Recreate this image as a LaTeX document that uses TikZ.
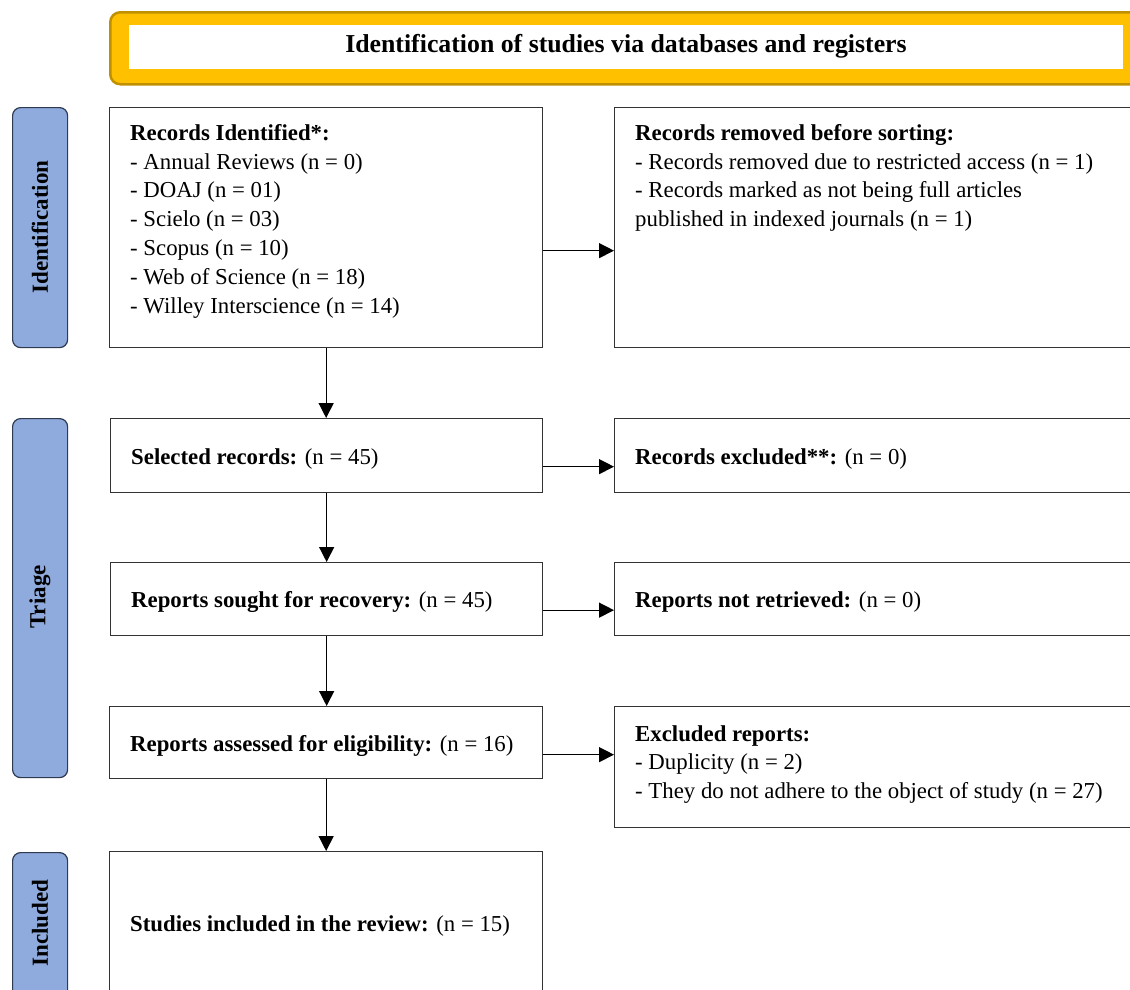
\documentclass[tikz,border=0pt]{standalone}
\usepackage{fontspec}
\setmainfont{Liberation Serif}
\usetikzlibrary{arrows.meta,calc}
\definecolor{boxline}{HTML}{333333}
\definecolor{bangold}{HTML}{FFC000}
\definecolor{banedge}{HTML}{BF9000}
\definecolor{phaseblue}{HTML}{8FAADC}
\definecolor{phaseedge}{HTML}{2E3A4F}
\begin{document}
\begin{tikzpicture}[x=1pt,y=-1pt,
  box/.style={draw=boxline, line width=1.3pt, fill=white, anchor=north west, inner sep=0pt},
  phase/.style={draw=phaseedge, fill=phaseblue, rounded corners=8pt, line width=1.2pt, anchor=north west, inner sep=0pt},
  phtxt/.style={inner sep=0pt, rotate=90, font=\fontsize{23}{26}\selectfont\bfseries},
  txt/.style={inner sep=0pt, align=left, font=\fontsize{22.8}{28.8}\selectfont},
  arr/.style={draw=black, line width=1.3pt, -{Triangle[length=15pt,width=15pt]}}]
\useasboundingbox (0,0) rectangle (1130,989);
\clip (0,0) rectangle (1130,989);
% banner
\node[draw=banedge, fill=bangold, line width=2.5pt, rounded corners=10pt, anchor=north west, inner sep=0pt, minimum width=1080pt, minimum height=72pt] (ban) at (109,11) {};
\node[fill=white, anchor=north west, inner sep=0pt, minimum width=994pt, minimum height=44pt] (banin) at (129,25) {};
\node[inner sep=0pt, anchor=base, font=\fontsize{25.8}{28}\selectfont\bfseries] (bantxt) at (626,52) {Identification of studies via databases and registers};
% phases
\node[phase, minimum width=55pt, minimum height=240pt] (idp) at (12,107) {};
\node[phase, minimum width=55pt, minimum height=359pt] (trp) at (12,418) {};
\node[phase, minimum width=55pt, minimum height=200pt] (inp) at (12,852) {};
\node[phtxt] (idt) at (40,227) {Identification};
\node[phtxt] (trt) at (40,597) {Triage};
\node[phtxt] (int) at (40,923) {Included};
% boxes
\node[box, minimum width=433pt, minimum height=240pt] (rid) at (109,107) {};
\node[box, minimum width=560pt, minimum height=240pt] (rem) at (614,107) {};
\node[box, minimum width=432pt, minimum height=74pt] (sel) at (110,418) {};
\node[box, minimum width=560pt, minimum height=74pt] (exc) at (614,418) {};
\node[box, minimum width=432pt, minimum height=73pt] (sou) at (110,562) {};
\node[box, minimum width=560pt, minimum height=73pt] (nret) at (614,562) {};
\node[box, minimum width=433pt, minimum height=72pt] (ass) at (109,706) {};
\node[box, minimum width=560pt, minimum height=121pt] (exr) at (614,706) {};
\node[box, minimum width=433pt, minimum height=200pt] (inc) at (109,851) {};
% texts
\node[txt, anchor=north west] (ridt) at (130,124) {\textbf{Records Identified*:}\\- Annual Reviews (n = 0)\\- DOAJ (n = 01)\\- Scielo (n = 03)\\- Scopus (n = 10)\\- Web of Science (n = 18)\\- Willey Interscience (n = 14)};
\node[txt, anchor=north west] (remt) at (635,124) {\textbf{Records removed before sorting:}\\- Records removed due to restricted access (n = 1)\\- Records marked as not being full articles\\published in indexed journals (n = 1)};
\node[txt, anchor=base west] (selt) at (131,464) {\textbf{Selected records:} (n = 45)};
\node[txt, anchor=base west] (exct) at (635,464) {\textbf{Records excluded**:} (n = 0)};
\node[txt, anchor=base west] (sout) at (131,607) {\textbf{Reports sought for recovery:} (n = 45)};
\node[txt, anchor=base west] (nrett) at (635,607) {\textbf{Reports not retrieved:} (n = 0)};
\node[txt, anchor=base west] (asst) at (130,751) {\textbf{Reports assessed for eligibility:} (n = 16)};
\node[txt, anchor=north west] (exrt) at (635,725) {\textbf{Excluded reports:}\\- Duplicity (n = 2)\\- They do not adhere to the object of study (n = 27)};
\node[txt, anchor=base west] (inct) at (130,931) {\textbf{Studies included in the review:} (n = 15)};
% arrows
\draw[arr] (rid.south) -- (rid.south |- sel.north);
\draw[arr] (sel.south) -- (sel.south |- sou.north);
\draw[arr] (sou.south) -- (sou.south |- ass.north);
\draw[arr] (ass.south) -- (ass.south |- inc.north);
\draw[arr] ([yshift=-23pt]rid.east) coordinate (a1) -- (a1 -| rem.west);
\draw[arr] ([yshift=-11pt]sel.east) coordinate (a2) -- (a2 -| exc.west);
\draw[arr] ([yshift=-11pt]sou.east) coordinate (a3) -- (a3 -| nret.west);
\draw[arr] ([yshift=-12pt]ass.east) coordinate (a4) -- (a4 -| exr.west);
\end{tikzpicture}
\end{document}
